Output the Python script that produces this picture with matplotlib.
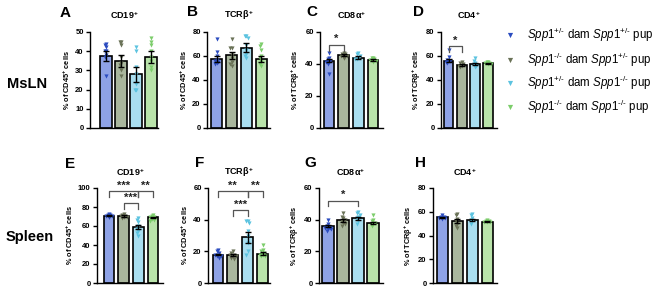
import numpy as np
import matplotlib
matplotlib.use("Agg")
import matplotlib.pyplot as plt

plt.rcParams['font.family'] = ['Liberation Sans', 'DejaVu Sans']
plt.rcParams['mathtext.fontset'] = 'custom'
plt.rcParams['mathtext.rm'] = 'Liberation Sans'
plt.rcParams['mathtext.it'] = 'Liberation Sans:italic'
plt.rcParams['mathtext.bf'] = 'Liberation Sans:bold'

# ---------------- data ----------------
groups = [r"$\mathit{Spp1}^{+/\text{-}}$ dam $\mathit{Spp1}^{+/\text{-}}$ pup",
          r"$\mathit{Spp1}^{\text{-}/\text{-}}$ dam $\mathit{Spp1}^{+/\text{-}}$ pup",
          r"$\mathit{Spp1}^{+/\text{-}}$ dam $\mathit{Spp1}^{\text{-}/\text{-}}$ pup",
          r"$\mathit{Spp1}^{\text{-}/\text{-}}$ dam $\mathit{Spp1}^{\text{-}/\text{-}}$ pup"]
bar_colors = ["#8ea2e6", "#a9b69d", "#a9def0", "#b9e3aa"]
pt_colors = ["#2b4cc0", "#6a7257", "#5cc3e0", "#7ccd6b"]

panels = ["A", "B", "C", "D", "E", "F", "G", "H"]
titles = [r"CD19$^{\mathbf{+}}$", r"TCRβ$^{\mathbf{+}}$", r"CD8α$^{\mathbf{+}}$", r"CD4$^{\mathbf{+}}$"] * 2
ylabels = [r"% of CD45$^{\mathbf{+}}$ cells", r"% of CD45$^{\mathbf{+}}$ cells",
           r"% of TCRβ$^{\mathbf{+}}$ cells", r"% of TCRβ$^{\mathbf{+}}$ cells"] * 2
ymax = [50, 80, 60, 80, 100, 60, 60, 80]
ystep = [10, 20, 20, 20, 20, 20, 20, 20]

means = {
    "A": [37.5, 35.0, 28.0, 37.0],
    "B": [57.5, 60.5, 67.0, 57.5],
    "C": [42.0, 45.5, 44.0, 42.5],
    "D": [56.0, 52.5, 53.5, 54.0],
    "E": [71.0, 70.5, 59.0, 69.0],
    "F": [18.0, 17.5, 29.0, 18.5],
    "G": [36.0, 39.5, 41.0, 38.0],
    "H": [55.5, 52.0, 53.0, 51.5],
}
sems = {
    "A": [2.5, 3.0, 4.0, 3.0],
    "B": [2.5, 3.0, 4.0, 2.5],
    "C": [1.0, 0.7, 0.7, 0.5],
    "D": [1.3, 0.7, 1.0, 0.5],
    "E": [0.5, 0.7, 2.5, 0.8],
    "F": [0.6, 0.6, 3.5, 0.9],
    "G": [0.8, 1.0, 1.0, 0.8],
    "H": [0.5, 1.5, 1.0, 0.3],
}
points = {
    "A": [[44, 43, 42, 40, 40, 38, 37, 27], [45, 45, 43, 37, 34, 33, 30, 27],
          [42, 40, 32, 28, 23, 20, 20], [47, 45, 43, 40, 37, 35, 32, 30]],
    "B": [[74, 63, 60, 57, 56, 55, 54, 53], [74, 67, 67, 61, 58, 55, 53, 52],
          [77, 77, 75, 69, 65, 62, 60, 58], [70, 68, 65, 60, 58, 55, 53, 52]],
    "C": [[47, 44, 43, 42, 41, 41, 40, 34], [47, 46, 46, 45, 45, 44, 44],
          [47, 46, 45, 44, 43, 43], [44, 43.5, 43, 42.5, 42, 41]],
    "D": [[65, 59, 57, 56, 56, 55, 54], [55, 54, 53, 52, 52, 51],
          [58, 56, 54, 53, 52, 51], [55, 55, 54, 54, 53, 53]],
    "E": [[73, 72, 72, 71, 71, 70, 70, 69], [73, 72, 71, 71, 70, 70, 69, 68],
          [68, 66, 64, 60, 57, 55, 53, 50], [72, 71, 70, 69, 68, 67, 66, 65]],
    "F": [[21, 20, 19, 18, 18, 17, 17, 16], [20, 19, 18, 18, 17, 17, 16, 15],
          [39, 39, 38, 33, 30, 25, 20, 18], [24, 21, 20, 19, 18, 18, 17, 17]],
    "G": [[40, 37, 36, 35, 35, 34, 34, 33], [44, 42, 41, 40, 39, 38, 37, 36],
          [45, 44, 43, 42, 41, 39, 37], [43, 40, 39, 38, 37, 36]],
    "H": [[57, 56, 56, 55, 55, 54], [58, 57, 54, 52, 50, 48, 46],
          [58, 57, 55, 53, 52, 50], [53, 52, 52, 51, 51, 51]],
}
# significance: (group i, group j, bracket height, label)
sig = {
    "C": [(0, 1, 52, "*")],
    "D": [(0, 1, 68, "*")],
    "E": [(0, 2, 97, "***"), (2, 3, 97, "**"), (1, 2, 84, "***")],
    "F": [(0, 2, 58, "**"), (2, 3, 58, "**"), (1, 2, 46, "***")],
    "G": [(0, 2, 52, "*")],
}
row_labels = ["MsLN", "Spleen"]

# ---------------- layout (pixels) ----------------
W, H = 670, 290
fig = plt.figure(figsize=(W / 100, H / 100), dpi=100)
# axis_x, first bar center, last bar center, right end
geom = {
    "A": (90, 106, 151, 158), "B": (207, 216.7, 261.3, 270),
    "C": (320, 329, 373, 383), "D": (441, 448.5, 488, 497),
    "E": (97, 109, 153, 163), "F": (208, 218, 262.5, 270),
    "G": (319, 328, 373, 383), "H": (433, 442.5, 487.5, 497),
}
rows_y = [(32, 128), (188, 283)]
letter_pos = {"A": (65, 13), "B": (193, 12), "C": (312, 12), "D": (418, 12),
              "E": (70, 164), "F": (200, 163), "G": (310, 163), "H": (420, 163)}
title_y = [15, 172]


def swarm_offsets(vals, rng_units, step=0.1):
    order = np.argsort(vals)[::-1]
    placed = []
    offs = np.zeros(len(vals))
    cands = [0, -step, step, -2 * step, 2 * step]
    for idx in order:
        v = vals[idx]
        for c in cands:
            ok = True
            for (pv, pc) in placed:
                if abs(pv - v) < rng_units and abs(pc - c) < step * 0.9:
                    ok = False
                    break
            if ok:
                offs[idx] = c
                placed.append((v, c))
                break
        else:
            offs[idx] = 0
            placed.append((v, 0))
    return offs


for k, p in enumerate(panels):
    r = k // 4
    ax_x, c1, c4, rx = geom[p]
    ytop, ybot = rows_y[r]
    ax = fig.add_axes([ax_x / W, 1 - ybot / H, (rx - ax_x) / W, (ybot - ytop) / H])
    s = (c4 - c1) / 3
    ax.set_xlim(-(c1 - ax_x) / s, 3 + (rx - c4) / s)
    ax.set_ylim(0, ymax[k])
    x = np.arange(4)
    ax.bar(x, means[p], width=0.74, color=bar_colors, edgecolor="black", linewidth=1.2, zorder=2)
    for g in range(4):
        vals = np.array(points[p][g], dtype=float)
        offs = swarm_offsets(vals, ymax[k] * 0.035)
        ax.scatter(g + offs, vals, marker="v", s=9, color=pt_colors[g], linewidths=0, zorder=3)
    ax.errorbar(x, means[p], yerr=sems[p], fmt="none", ecolor="black", elinewidth=1.0,
                capsize=2.2, capthick=1.0, zorder=4)
    for (i, j, h, lab) in sig.get(p, []):
        d = ymax[k] * 0.06
        ax.plot([i, i, j, j], [h - d, h, h, h - d], color="#555555", lw=0.9,
                clip_on=False, zorder=5)
        ax.text((i + j) / 2, h + ymax[k] * 0.005, lab, ha="center", va="bottom",
                fontsize=8, fontweight="bold", color="#222222", clip_on=False)
    ax.set_yticks(np.arange(0, ymax[k] + 1, ystep[k]))
    ax.set_xticks([])
    for sp in ["top", "right"]:
        ax.spines[sp].set_visible(False)
    for sp in ["left", "bottom"]:
        ax.spines[sp].set_linewidth(1.0)
    ax.tick_params(axis="y", length=3, width=1.0, labelsize=5.5, pad=1.5)
    for t in ax.get_yticklabels():
        t.set_fontweight("bold")
    ax.set_ylabel(ylabels[k], fontsize=5.3, fontweight="bold", labelpad=2)
    fig.text((ax_x + rx) / 2 / W, 1 - title_y[r] / H, titles[k], ha="center", va="center",
             fontsize=6.5, fontweight="bold")
    lx, ly = letter_pos[p]
    fig.text(lx / W, 1 - ly / H, p, ha="center", va="center", fontsize=11, fontweight="bold")

fig.text(27 / W, 1 - 84 / H, row_labels[0], ha="center", va="center", fontsize=10.5, fontweight="bold")
fig.text(30 / W, 1 - 237 / H, row_labels[1], ha="center", va="center", fontsize=10.5, fontweight="bold")

# legend
lax = fig.add_axes([0, 0, 1, 1])
lax.set_xlim(0, W)
lax.set_ylim(H, 0)
lax.axis("off")
leg_y = [35, 59.5, 83, 107]
for g in range(4):
    lax.scatter([510], [leg_y[g]], marker="v", s=14, color=pt_colors[g], linewidths=0)
    lax.text(527, leg_y[g], groups[g], ha="left", va="center", fontsize=8.3)

fig.savefig("out.png", dpi=100)
